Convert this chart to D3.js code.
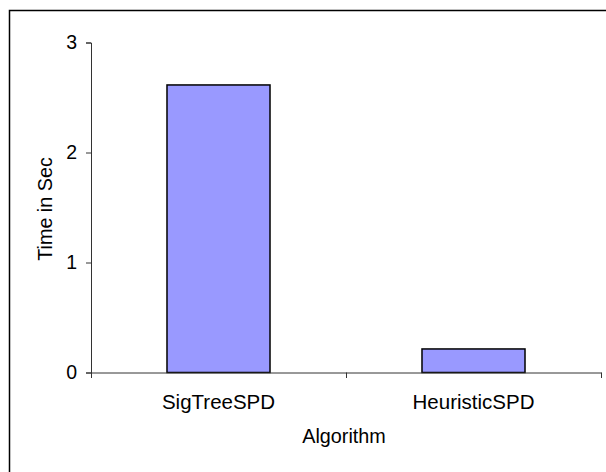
<!DOCTYPE html>
<html><head><meta charset="utf-8">
<script src="https://cdn.jsdelivr.net/npm/d3@7"></script>
<style>body{margin:0;background:#fff}svg{display:block}text{font-family:Arial,"Liberation Sans",sans-serif;fill:#000}</style>
</head><body><svg id="c" width="606" height="472"></svg>
<script>
const categories = ["SigTreeSPD", "HeuristicSPD"];
const values = [2.614, 0.214];
const yTicks = [0, 1, 2, 3];
const xTitle = "Algorithm";
const yTitle = "Time in Sec";

const svg = d3.select("#c");
svg.append("rect").attr("x", 9.5).attr("y", 10.5).attr("width", 620).attr("height", 500)
  .attr("fill", "#fff").attr("stroke", "#000").attr("stroke-width", 1.5);

const pLeft = 91, pRight = 601, pTop = 42.5, pBottom = 372.5;
const x = d3.scaleBand().domain(categories).range([pLeft, pRight]);
const y = d3.scaleLinear().domain([0, 3]).range([pBottom, pTop]);

const barW = x.bandwidth() * 0.404;
svg.selectAll(".bar").data(categories).enter().append("rect")
  .attr("x", d => x(d) + x.bandwidth() / 2 - barW / 2)
  .attr("y", (d, i) => y(values[i]))
  .attr("width", barW)
  .attr("height", (d, i) => y(0) - y(values[i]))
  .attr("fill", "#9999FF").attr("stroke", "#000").attr("stroke-width", 1.5);

const axisColor = "#333";
const ff = "Arial, 'Liberation Sans', sans-serif";
// Y axis
const ya = svg.append("g").attr("transform", `translate(${pLeft},0)`)
  .call(d3.axisLeft(y).tickValues(yTicks).tickFormat(d3.format("d")).tickSize(5).tickPadding(9));
ya.select(".domain").attr("stroke", axisColor);
ya.selectAll(".tick line").attr("stroke", axisColor);
ya.selectAll("text").attr("font-size", 19.5).attr("font-family", ff).attr("fill", "#000");

// X axis
const xa = svg.append("g").attr("transform", `translate(0,${pBottom})`)
  .call(d3.axisBottom(x).tickSize(0).tickPadding(21.5).tickSizeOuter(0));
xa.select(".domain").attr("stroke", axisColor);
xa.selectAll("text").attr("font-size", 20.5).attr("font-family", ff).attr("fill", "#000");
// category separator ticks
const sepTicks = [pLeft, x(categories[1]), pRight];
svg.selectAll(".sep").data(sepTicks).enter().append("line")
  .attr("x1", d => d + 0.5).attr("x2", d => d + 0.5)
  .attr("y1", pBottom).attr("y2", pBottom + 5.5)
  .attr("stroke", axisColor);

svg.append("text").attr("x", 344).attr("y", 443)
  .attr("text-anchor", "middle").attr("font-size", 19.8).text(xTitle);
svg.append("text").attr("transform", `translate(52,209) rotate(-90)`)
  .attr("text-anchor", "middle").attr("font-size", 19.8).text(yTitle);
</script></body></html>
